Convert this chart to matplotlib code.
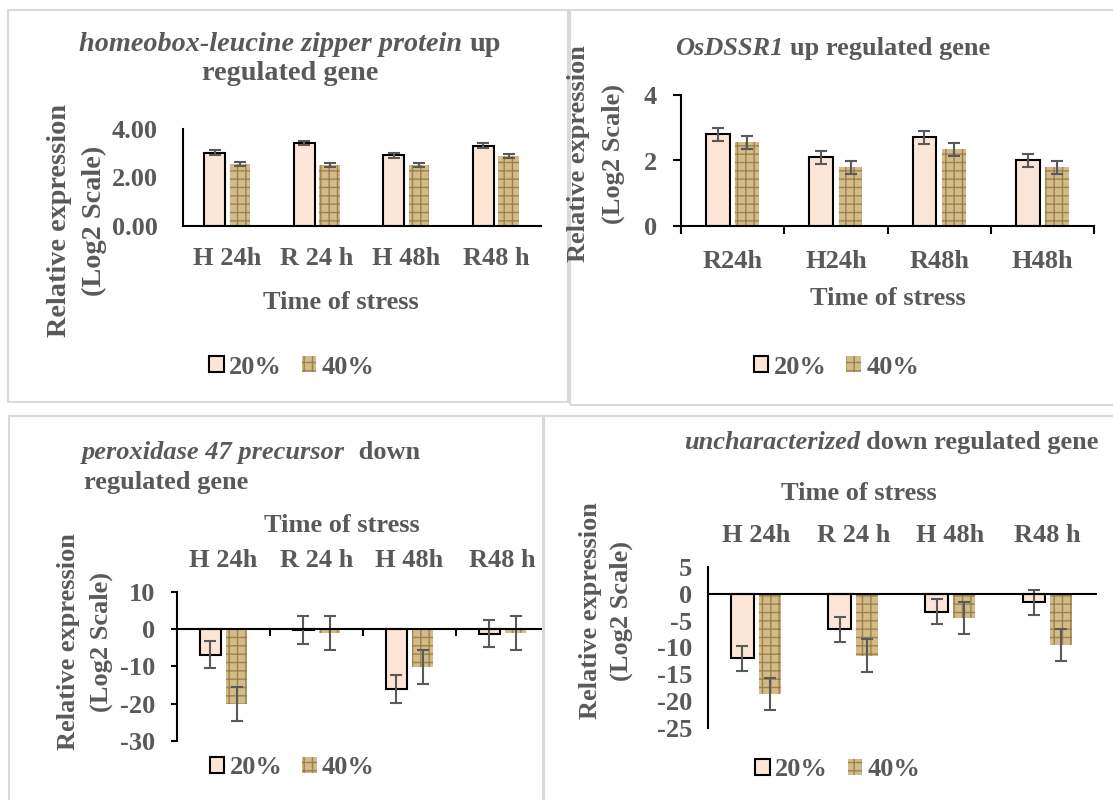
import matplotlib
matplotlib.use('Agg')
import matplotlib.pyplot as plt
from matplotlib.patches import Rectangle
import numpy as np

# categories
cats_hr = ['H 24h', 'R 24 h', 'H 48h', 'R48 h']
cats_os = ['R24h', 'H24h', 'R48h', 'H48h']
series = ['20%', '40%']

# homeobox-leucine zipper protein
hd_20 = [3.03, 3.42, 2.92, 3.31]
hd_20_err = [0.10, 0.10, 0.10, 0.10]
hd_40 = [2.57, 2.52, 2.52, 2.88]
hd_40_err = [0.08, 0.08, 0.08, 0.08]

# OsDSSR1
os_20 = [2.80, 2.10, 2.71, 2.00]
os_20_err = [0.20, 0.20, 0.20, 0.20]
os_40 = [2.56, 1.79, 2.34, 1.79]
os_40_err = [0.20, 0.20, 0.20, 0.20]

# peroxidase 47 precursor
px_20 = [-6.9, -0.2, -16.0, -1.25]
px_20_err = [3.65, 3.7, 3.7, 3.65]
px_40 = [-20.1, -1.05, -10.1, -1.1]
px_40_err = [4.5, 4.5, 4.5, 4.5]

# uncharacterized
un_20 = [-12.0, -6.6, -3.3, -1.6]
un_20_err = [2.3, 2.3, 2.3, 2.3]
un_40 = [-18.7, -11.5, -4.5, -9.5]
un_40_err = [3.0, 3.0, 3.0, 3.0]

W, H = 1113, 800
GRAY = '#595959'
FS = 19
FS_BIG = 20.3
c20 = '#fbe5d6'
c40 = '#d2bb86'
hatch40 = '#9c8150'

plt.rcParams['font.family'] = 'Liberation Serif'
plt.rcParams['font.weight'] = 'bold'
plt.rcParams['font.size'] = FS
plt.rcParams['text.color'] = GRAY
plt.rcParams['xtick.color'] = 'black'
plt.rcParams['ytick.color'] = 'black'
plt.rcParams['xtick.labelcolor'] = GRAY
plt.rcParams['ytick.labelcolor'] = GRAY
plt.rcParams['hatch.linewidth'] = 1.0
plt.rcParams['axes.unicode_minus'] = False


def fx(px):
    return px / W


def fy(py):
    return 1 - py / H


fig = plt.figure(figsize=(W / 100, H / 100), dpi=100)
fig.patch.set_facecolor('white')

# panel frames
for l, t, r, b in [(8, 10, 568, 402), (570, 10, 1120, 405),
                   (9, 416, 543, 810), (544, 416, 1120, 810)]:
    fig.add_artist(Rectangle((fx(l), fy(b)), (r - l) / W, (b - t) / H,
                             transform=fig.transFigure, fill=False,
                             edgecolor='#d9d9d9', lw=1.5))


def new_axes(l, t, r, b):
    ax = fig.add_axes([fx(l), fy(b), (r - l) / W, (b - t) / H])
    ax.patch.set_alpha(0)
    for s in ['top', 'right']:
        ax.spines[s].set_visible(False)
    for s in ['left', 'bottom']:
        ax.spines[s].set_linewidth(1.5)
        ax.spines[s].set_color('black')
    return ax


def draw_bars(ax, v20, e20, v40, e40):
    x = np.arange(4)
    w = 0.23
    off = 0.142
    ekw = dict(ecolor=GRAY, elinewidth=1.5, capsize=4, capthick=1.5)
    b1 = ax.bar(x - off, v20, w, yerr=e20, color=c20, edgecolor='black',
                linewidth=1.5, error_kw=ekw, label=series[0])
    b2 = ax.bar(x + off, v40, w, yerr=e40, color=c40, edgecolor=hatch40,
                linewidth=0, hatch='++', error_kw=ekw, label=series[1])
    return b1, b2


def mixed_line(parts, x, y, ha='center', fs=FS):
    r = fig.canvas.get_renderer()
    objs = [fig.text(0, fy(y), s, style=st, weight='bold', fontsize=fs,
                     va='baseline', color=GRAY) for s, st in parts]
    widths = [o.get_window_extent(r).width for o in objs]
    gap = fs * 0.25 * 100 / 72
    total = sum(widths) + gap * (len(objs) - 1)
    start = x - total / 2 if ha == 'center' else x
    for o, wd in zip(objs, widths):
        o.set_x(fx(start))
        start += wd + gap


def ylabel2(xc1, xc2, yc, fs=FS):
    fig.text(fx(xc1), fy(yc), 'Relative expression', rotation=90,
             ha='center', va='center', fontsize=fs)
    fig.text(fx(xc2), fy(yc), '(Log2 Scale)', rotation=90,
             ha='center', va='center', fontsize=fs)


def legend_at(ax, handles, xc, yc):
    ax.legend(handles, series, loc='center', ncol=2, frameon=False,
              bbox_to_anchor=(fx(xc), fy(yc)), bbox_transform=fig.transFigure,
              handlelength=0.55, handleheight=0.55, handletextpad=0.2,
              columnspacing=0.75, borderpad=0, labelcolor=GRAY,
              prop=dict(weight='bold', size=FS))


# ---- panel 1: homeobox-leucine zipper protein
ax1 = new_axes(182.7, 129, 540.7, 226)
h = draw_bars(ax1, hd_20, hd_20_err, hd_40, hd_40_err)
ax1.set_xlim(-0.5, 3.5)
ax1.set_ylim(0, 4)
ax1.set_yticks([0, 2, 4], ['0.00', '2.00', '4.00'])
ax1.set_xticks(range(4), cats_hr)
ax1.tick_params(axis='y', length=0, pad=17.8)
ax1.tick_params(axis='x', length=0, pad=15)
mixed_line([('homeobox-leucine zipper protein', 'italic'), ('up', 'normal')],
           290, 51, fs=FS_BIG)
mixed_line([('regulated gene', 'normal')], 290, 80, fs=FS_BIG)
fig.text(fx(340.5), fy(309), 'Time of stress', ha='center', va='baseline')
ylabel2(59, 94, 220.5, fs=FS_BIG)
legend_at(ax1, h, 292, 367)

# ---- panel 2: OsDSSR1
ax2 = new_axes(681, 95, 1094, 226)
h = draw_bars(ax2, os_20, os_20_err, os_40, os_40_err)
ax2.set_xlim(-0.5, 3.5)
ax2.set_ylim(0, 4)
ax2.set_yticks([0, 2, 4], ['0', '2', '4'])
ax2.set_xticks(range(4), cats_os)
ax2.set_xticks(np.arange(-0.5, 4, 1), minor=True)
ax2.tick_params(axis='y', length=5.8, width=1.5, pad=11.5)
ax2.tick_params(axis='x', which='major', length=0, pad=17)
ax2.tick_params(axis='x', which='minor', length=5.8, width=1.5)
mixed_line([('OsDSSR1', 'italic'), ('up regulated gene', 'normal')], 833, 55)
fig.text(fx(888), fy(305), 'Time of stress', ha='center', va='baseline')
ylabel2(579, 613.5, 153.5)
legend_at(ax2, h, 836.5, 367)

# ---- panel 3: peroxidase 47 precursor
ax3 = new_axes(177, 591.7, 543, 741)
h = draw_bars(ax3, px_20, px_20_err, px_40, px_40_err)
ax3.set_xlim(-0.5, -0.5 + 366 / 93)
ax3.set_ylim(-30, 10)
ax3.spines['bottom'].set_position(('data', 0))
ax3.set_yticks([-30, -20, -10, 0, 10])
ax3.set_xticks(range(4), cats_hr)
ax3.set_xticks([0.5, 1.5, 2.5], minor=True)
ax3.tick_params(axis='y', length=4.5, width=1.5, pad=11.3)
ax3.tick_params(axis='x', which='major', top=False, bottom=False,
                labeltop=True, labelbottom=False, pad=11)
ax3.tick_params(axis='x', which='minor', length=5, width=1.5, direction='out')
mixed_line([('peroxidase 47 precursor', 'italic'), (' down', 'normal')],
           82, 459, ha='left')
mixed_line([('regulated gene', 'normal')], 84, 489, ha='left')
fig.text(fx(341.6), fy(531.7), 'Time of stress', ha='center', va='baseline')
ylabel2(69, 101, 642)
legend_at(ax3, h, 292.3, 768)

# ---- panel 4: uncharacterized
ax4 = new_axes(707.7, 567, 1096, 728)
h = draw_bars(ax4, un_20, un_20_err, un_40, un_40_err)
ax4.set_xlim(-0.5, 3.5)
ax4.set_ylim(-25, 5)
ax4.spines['bottom'].set_position(('data', 0))
ax4.set_yticks([-25, -20, -15, -10, -5, 0, 5])
ax4.set_xticks(range(4), cats_hr)
ax4.tick_params(axis='y', length=0, pad=11.3)
ax4.tick_params(axis='x', which='major', top=False, bottom=False,
                labeltop=True, labelbottom=False, pad=11)
mixed_line([('uncharacterized', 'italic'), ('down regulated gene', 'normal')],
           683.6, 449, ha='left')
fig.text(fx(859), fy(500), 'Time of stress', ha='center', va='baseline')
ylabel2(590, 621, 611)
legend_at(ax4, h, 838, 770)

fig.savefig('out.png', dpi=100)
